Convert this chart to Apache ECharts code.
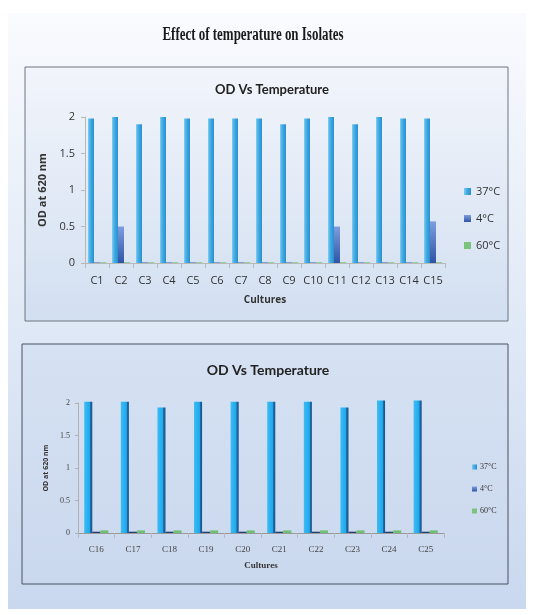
<!DOCTYPE html>
<html>
<head>
<meta charset="utf-8">
<script src="https://cdn.jsdelivr.net/npm/echarts@6/dist/echarts.min.js"></script>
<style>
  html, body { margin: 0; padding: 0; background: #ffffff; }
  #chart { width: 534px; height: 615px; }
</style>
</head>
<body>
<div id="chart"></div>
<script>
// Cultures and optical density readings (OD at 620 nm) per incubation temperature
const cultures1 = ['C1', 'C2', 'C3', 'C4', 'C5', 'C6', 'C7', 'C8', 'C9', 'C10', 'C11', 'C12', 'C13', 'C14', 'C15'];
const od37a = [1.98, 2.0, 1.9, 2.0, 1.98, 1.98, 1.98, 1.98, 1.9, 1.98, 2.0, 1.9, 2.0, 1.98, 1.98];
const od4a  = [0.01, 0.5, 0.01, 0.01, 0.01, 0.01, 0.01, 0.01, 0.01, 0.01, 0.5, 0.01, 0.01, 0.01, 0.57];
const od60a = [0.01, 0.01, 0.01, 0.01, 0.01, 0.01, 0.01, 0.01, 0.01, 0.01, 0.01, 0.01, 0.01, 0.01, 0.01];

const cultures2 = ['C16', 'C17', 'C18', 'C19', 'C20', 'C21', 'C22', 'C23', 'C24', 'C25'];
const od37b = [2.02, 2.02, 1.93, 2.02, 2.02, 2.02, 2.02, 1.93, 2.04, 2.04];
const od4b  = [0.02, 0.02, 0.02, 0.02, 0.02, 0.02, 0.02, 0.02, 0.02, 0.02];
const od60b = [0.04, 0.04, 0.04, 0.04, 0.04, 0.04, 0.04, 0.04, 0.04, 0.04];

const temps = ['37°C', '4°C', '60°C'];
const yMin = 0, yMax = 2, yStep = 0.5;

const grad = (c0, c1, horizontal) => new echarts.graphic.LinearGradient(
  0, 0, horizontal ? 1 : 0, horizontal ? 0 : 1,
  [{ offset: 0, color: c0 }, { offset: 1, color: c1 }]);

const sans = '"Open Sans", "Noto Sans", sans-serif';
const titleFont = 'Lato, "Open Sans", sans-serif';

const chart = echarts.init(document.getElementById('chart'), null, { renderer: 'canvas' });

const c37a = new echarts.graphic.LinearGradient(0, 0, 1, 0, [
  { offset: 0, color: '#7fcdf0' }, { offset: 0.45, color: '#3eaae2' }, { offset: 1, color: '#2a8fcf' }]);
const c4a = grad('#7f9ee0', '#2d55a5', false);
const c37b = new echarts.graphic.LinearGradient(0, 0, 1, 0, [
  { offset: 0, color: '#3dbcf4' }, { offset: 0.7, color: '#1ea8ec' }, { offset: 0.75, color: '#1c6fae' }, { offset: 1, color: '#1a4f86' }]);

const option = {
  animation: false,
  graphic: [
    { type: 'rect', shape: { x: 8, y: 13, width: 518, height: 596 }, silent: true,
      style: { fill: grad('#f9fbfe', '#c9d8ef', false) }, z: -10 },
    { type: 'rect', shape: { x: 25, y: 67, width: 483, height: 254 }, silent: true,
      style: { fill: grad('#f2f5fb', '#d2dff1', false), stroke: '#6f7480', lineWidth: 1 }, z: -9 },
    { type: 'rect', shape: { x: 22, y: 344, width: 486, height: 240 }, silent: true,
      style: { fill: grad('#d6e2f3', '#cad8ee', false), stroke: '#4b5060', lineWidth: 1 }, z: -9 },
    { type: 'text', x: 253, y: 35, scaleX: 0.72, silent: true,
      style: { text: 'Effect of temperature on Isolates', x: 0, y: 0, textAlign: 'center', textVerticalAlign: 'middle',
        font: 'bold 18px "Liberation Serif", "DejaVu Serif", serif', fill: '#1a1a1a' } }
  ],
  title: [
    { text: 'OD Vs Temperature', left: 267, top: 78, textAlign: 'center',
      textStyle: { fontFamily: titleFont, fontSize: 13, fontWeight: 'bold', color: '#222' } },
    { text: 'OD Vs Temperature', left: 263, top: 358, textAlign: 'center',
      textStyle: { fontFamily: titleFont, fontSize: 14, fontWeight: 'bold', color: '#222' } }
  ],
  legend: [
    { orient: 'vertical', left: 459, top: 181, itemWidth: 7, itemHeight: 7, itemGap: 16, icon: 'rect',
      data: temps, textStyle: { fontFamily: sans, fontSize: 11, color: '#333' } },
    { orient: 'vertical', left: 467, top: 458, itemWidth: 5, itemHeight: 5, itemGap: 14, icon: 'rect',
      data: temps, textStyle: { fontFamily: '"Liberation Serif", serif', fontSize: 8, color: '#333', padding: [0, 0, 0, -2] } }
  ],
  grid: [
    { left: 85, right: 89, top: 117, bottom: 352 },
    { left: 78, right: 90, top: 403, bottom: 82 }
  ],
  xAxis: [
    { type: 'category', gridIndex: 0, data: cultures1, name: 'Cultures', nameLocation: 'middle', nameGap: 32,
      nameTextStyle: { fontFamily: sans, fontSize: 10, fontWeight: 'bold', color: '#333' },
      axisLine: { lineStyle: { color: '#b8b8b8' } }, axisTick: { show: true, lineStyle: { color: '#b8b8b8' } },
      axisLabel: { fontFamily: sans, fontSize: 11, color: '#333', margin: 12, interval: 0 } },
    { type: 'category', gridIndex: 1, data: cultures2, name: 'Cultures', nameLocation: 'middle', nameGap: 28,
      nameTextStyle: { fontFamily: '"Liberation Serif", serif', fontSize: 9, fontWeight: 'bold', color: '#333' },
      axisLine: { lineStyle: { color: '#9a9a9a' } }, axisTick: { show: true, lineStyle: { color: '#b8b8b8' } },
      axisLabel: { fontFamily: '"Liberation Serif", serif', fontSize: 9, color: '#444', margin: 12, interval: 0 } }
  ],
  yAxis: [
    { type: 'value', gridIndex: 0, min: yMin, max: yMax, interval: yStep, name: 'OD at 620 nm',
      nameLocation: 'middle', nameGap: 30, nameRotate: 90,
      nameTextStyle: { fontFamily: sans, fontSize: 11, fontWeight: 'bold', color: '#333' },
      axisLine: { show: true, lineStyle: { color: '#b8b8b8' } }, axisTick: { show: true, length: 4, lineStyle: { color: '#b8b8b8' } },
      splitLine: { show: false },
      axisLabel: { fontFamily: sans, fontSize: 11, color: '#333', margin: 10 } },
    { type: 'value', gridIndex: 1, min: yMin, max: yMax, interval: yStep, name: 'OD at 620 nm',
      nameLocation: 'middle', nameGap: 22, nameRotate: 90,
      nameTextStyle: { fontFamily: sans, fontSize: 7, fontWeight: 'bold', color: '#333' },
      axisLine: { show: true, lineStyle: { color: '#b0b0b0' } }, axisTick: { show: true, length: 3, lineStyle: { color: '#b0b0b0' } },
      splitLine: { show: false },
      axisLabel: { fontFamily: '"Liberation Serif", serif', fontSize: 8, color: '#444', margin: 8 } }
  ],
  series: [
    { name: '37°C', type: 'bar', xAxisIndex: 0, yAxisIndex: 0, data: od37a, barGap: '0%', barCategoryGap: '25%',
      itemStyle: { color: c37a } },
    { name: '4°C', type: 'bar', xAxisIndex: 0, yAxisIndex: 0, data: od4a, itemStyle: { color: c4a } },
    { name: '60°C', type: 'bar', xAxisIndex: 0, yAxisIndex: 0, data: od60a, itemStyle: { color: '#7cc47c' } },
    { name: '37°C', type: 'bar', xAxisIndex: 1, yAxisIndex: 1, data: od37b, barGap: '0%', barCategoryGap: '34%',
      clip: false, itemStyle: { color: c37b } },
    { name: '4°C', type: 'bar', xAxisIndex: 1, yAxisIndex: 1, data: od4b, clip: false, itemStyle: { color: '#243f74' } },
    { name: '60°C', type: 'bar', xAxisIndex: 1, yAxisIndex: 1, data: od60b, clip: false, itemStyle: { color: '#6dbf72' } }
  ]
};

chart.setOption(option);
</script>
</body>
</html>
